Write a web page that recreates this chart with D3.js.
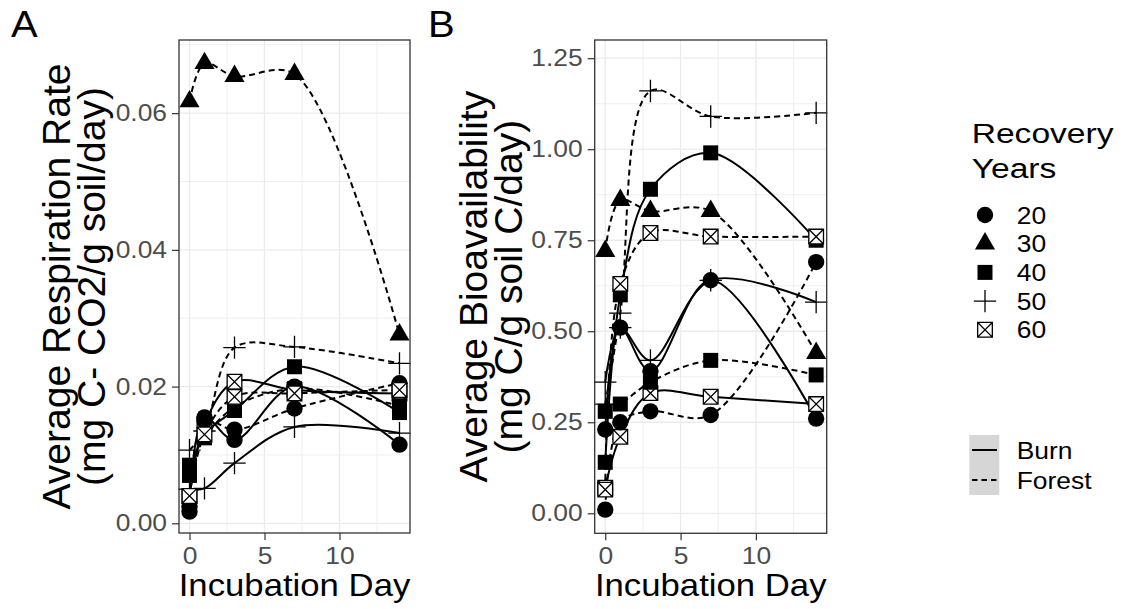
<!DOCTYPE html>
<html>
<head>
<meta charset="utf-8">
<script src="https://cdn.jsdelivr.net/npm/d3@7"></script>
<style>
  body { margin: 0; background: #fff; }
  svg { display: block; font-family: "Liberation Sans", Arial, sans-serif; }
</style>
</head>
<body>
<svg width="1123" height="609"></svg>
<script>
// incubation days sampled
const days = [0, 1, 3, 7, 14];
const years = ["20", "30", "40", "50", "60"];
const treatments = ["Burn", "Forest"];

// Panel A: average respiration rate (mg C-CO2 / g soil / day)
const respBurn20 = [0.0017, 0.0155, 0.0122, 0.0200, 0.0115];
const respBurn40 = [0.0070, 0.0130, 0.0165, 0.0229, 0.0162];
const respBurn50 = [0.0050, 0.0051, 0.0088, 0.0141, 0.0132];
const respBurn60 = [0.0040, 0.0145, 0.0207, 0.0195, 0.0190];
const respForest20 = [0.0025, 0.0150, 0.0137, 0.0168, 0.0205];
const respForest30 = [0.0617, 0.0673, 0.0654, 0.0657, 0.0276];
const respForest40 = [0.0085, 0.0125, 0.0170, 0.0197, 0.0172];
const respForest50 = [0.0107, 0.0135, 0.0257, 0.0258, 0.0234];
const respForest60 = [0.0040, 0.0130, 0.0185, 0.0190, 0.0195];

// Panel B: average bioavailability (mg C / g soil C / day)
const bioBurn20 = [0.23, 0.51, 0.39, 0.64, 0.26];
const bioBurn40 = [0.14, 0.60, 0.89, 0.99, 0.75];
const bioBurn50 = [0.36, 0.51, 0.42, 0.64, 0.58];
const bioBurn60 = [0.07, 0.21, 0.33, 0.32, 0.30];
const bioForest20 = [0.01, 0.25, 0.28, 0.27, 0.69];
const bioForest30 = [0.72, 0.86, 0.83, 0.83, 0.44];
const bioForest40 = [0.28, 0.30, 0.36, 0.42, 0.38];
const bioForest50 = [0.30, 0.55, 1.16, 1.09, 1.10];
const bioForest60 = [0.065, 0.63, 0.77, 0.76, 0.76];

const respTicks = [0, 0.02, 0.04, 0.06];
const bioTicks = [0, 0.25, 0.5, 0.75, 1.0, 1.25];
const dayTicks = [0, 5, 10];

const series = [
    {treatment: "Burn", year: "20", resp: respBurn20, bio: bioBurn20},
    {treatment: "Burn", year: "40", resp: respBurn40, bio: bioBurn40},
    {treatment: "Burn", year: "50", resp: respBurn50, bio: bioBurn50},
    {treatment: "Burn", year: "60", resp: respBurn60, bio: bioBurn60},
    {treatment: "Forest", year: "20", resp: respForest20, bio: bioForest20},
    {treatment: "Forest", year: "30", resp: respForest30, bio: bioForest30},
    {treatment: "Forest", year: "40", resp: respForest40, bio: bioForest40},
    {treatment: "Forest", year: "50", resp: respForest50, bio: bioForest50},
    {treatment: "Forest", year: "60", resp: respForest60, bio: bioForest60}
];

const svg = d3.select("svg");
const fontTick = 24, tickStretch = 1.1;
const gridCol = "#EBEBEB";

// custom symbols for pch 3 (plus) and pch 7 (boxed x)
const symPlus = {
    draw(ctx, size) {
        const r = Math.sqrt(size) / 2;
        ctx.moveTo(-r, 0); ctx.lineTo(r, 0);
        ctx.moveTo(0, -r); ctx.lineTo(0, r);
    }
};
const symBoxX = {
    draw(ctx, size) {
        const r = Math.sqrt(size) / 2;
        ctx.moveTo(-r, -r); ctx.lineTo(r, -r); ctx.lineTo(r, r); ctx.lineTo(-r, r); ctx.closePath();
        ctx.moveTo(-r, -r); ctx.lineTo(r, r);
        ctx.moveTo(r, -r); ctx.lineTo(-r, r);
    }
};
const shapeFor = {
    "20": {type: d3.symbolCircle, size: 210, fill: "#000", stroke: "none"},
    "30": {type: d3.symbolTriangle, size: 175, fill: "#000", stroke: "none"},
    "40": {type: d3.symbolSquare, size: 225, fill: "#000", stroke: "none"},
    "50": {type: symPlus, size: 500, fill: "none", stroke: "#000"},
    "60": {type: symBoxX, size: 215, fill: "#fff", stroke: "#000"}
};
const dashFor = {"Burn": null, "Forest": "6,4"};

function stretchText(g, x, y, str, size, sx, anchor, rotate) {
    return g.append("text")
        .attr("transform", `translate(${x},${y})` + (rotate ? ` rotate(${rotate})` : "") + ` scale(${sx},1)`)
        .attr("font-size", size)
        .attr("text-anchor", anchor || "start")
        .attr("fill", "#000")
        .text(str);
}

function drawPanel(cfg) {
    const x = d3.scaleLinear().domain([-0.7, 14.7]).range([cfg.x0, cfg.x1]);
    const y = d3.scaleLinear().domain(cfg.yDomain).range([cfg.y1, cfg.y0]);
    const g = svg.append("g");

    // minor grid
    const xMinor = [2.5, 7.5, 12.5];
    const yMinor = d3.range(cfg.ticks.length).map(i => cfg.ticks[0] + (i + 0.5) * (cfg.ticks[1] - cfg.ticks[0]))
        .filter(v => v < cfg.yDomain[1]);
    g.selectAll(".xminor").data(xMinor).enter().append("line")
        .attr("x1", d => x(d)).attr("x2", d => x(d)).attr("y1", cfg.y0).attr("y2", cfg.y1)
        .attr("stroke", gridCol).attr("stroke-width", 0.8);
    g.selectAll(".yminor").data(yMinor).enter().append("line")
        .attr("x1", cfg.x0).attr("x2", cfg.x1).attr("y1", d => y(d)).attr("y2", d => y(d))
        .attr("stroke", gridCol).attr("stroke-width", 0.8);
    // major grid
    g.selectAll(".xmajor").data(dayTicks).enter().append("line")
        .attr("x1", d => x(d)).attr("x2", d => x(d)).attr("y1", cfg.y0).attr("y2", cfg.y1)
        .attr("stroke", gridCol).attr("stroke-width", 1.3);
    g.selectAll(".ymajor").data(cfg.ticks).enter().append("line")
        .attr("x1", cfg.x0).attr("x2", cfg.x1).attr("y1", d => y(d)).attr("y2", d => y(d))
        .attr("stroke", gridCol).attr("stroke-width", 1.3);

    // smooth lines
    const line = d3.line()
        .x((d, i) => x(days[i]))
        .y(d => y(d))
        .curve(d3.curveCatmullRom.alpha(0.5));
    g.selectAll(".smooth").data(series).enter().append("path")
        .attr("d", s => line(s[cfg.key]))
        .attr("fill", "none")
        .attr("stroke", "#000")
        .attr("stroke-width", 2)
        .attr("stroke-dasharray", s => dashFor[s.treatment]);

    // points
    series.forEach(s => {
        const sh = shapeFor[s.year];
        g.selectAll(null).data(s[cfg.key]).enter().append("path")
            .attr("transform", (d, i) => `translate(${x(days[i])},${y(d)})`)
            .attr("d", d3.symbol().type(sh.type).size(sh.size))
            .attr("fill", sh.fill)
            .attr("stroke", sh.stroke)
            .attr("stroke-width", 1.3);
    });

    // panel border
    g.append("rect")
        .attr("x", cfg.x0).attr("y", cfg.y0)
        .attr("width", cfg.x1 - cfg.x0).attr("height", cfg.y1 - cfg.y0)
        .attr("fill", "none").attr("stroke", "#333333").attr("stroke-width", 1.3);

    // axes
    const yAxis = g.append("g").attr("transform", `translate(${cfg.x0},0)`)
        .call(d3.axisLeft(y).tickValues(cfg.ticks).tickFormat(d3.format(".2f")).tickSize(7).tickPadding(5));
    const xAxis = g.append("g").attr("transform", `translate(0,${cfg.y1})`)
        .call(d3.axisBottom(x).tickValues(dayTicks).tickFormat(d3.format("d")).tickSize(7).tickPadding(7));
    [yAxis, xAxis].forEach(ax => {
        ax.select(".domain").remove();
        ax.selectAll(".tick line").attr("stroke", "#333333").attr("stroke-width", 1.2);
        ax.selectAll("text")
            .attr("font-size", fontTick)
            .attr("font-family", "Liberation Sans, Arial, sans-serif")
            .attr("fill", "#4D4D4D");
    });
    yAxis.selectAll("text").attr("x", -12 / tickStretch).attr("transform", `scale(${tickStretch},1)`);
    xAxis.selectAll("text").attr("transform", `scale(${tickStretch},1)`);

    // titles
    stretchText(svg, (cfg.x0 + cfg.x1) / 2, 596, "Incubation Day", 31, 1.12, "middle");
    const cy = (cfg.y0 + cfg.y1) / 2;
    stretchText(svg, cfg.titleX[0], cy, cfg.title[0], 39, 1, "middle", -90);
    stretchText(svg, cfg.titleX[1], cy, cfg.title[1], 39, 1, "middle", -90);
    stretchText(svg, cfg.letterX, 36.7, cfg.letter, 37, 1.08, "start");
}

drawPanel({
    key: "resp", x0: 179, x1: 410, y0: 40, y1: 533,
    yDomain: [-0.00142, 0.0707], ticks: respTicks,
    title: ["Average Respiration Rate", "(mg C- CO2/g soil/day)"], titleX: [70, 105],
    letter: "A", letterX: 11
});
drawPanel({
    key: "bio", x0: 594.7, x1: 826.7, y0: 40, y1: 533.3,
    yDomain: [-0.055, 1.30], ticks: bioTicks,
    title: ["Average Bioavailability", "(mg C/g soil C/day)"], titleX: [487, 522],
    letter: "B", letterX: 428
});

// legend: recovery years (shape)
const leg = svg.append("g");
stretchText(leg, 971.7, 143, "Recovery", 28, 1.2, "start");
stretchText(leg, 971.7, 177.5, "Years", 28, 1.2, "start");
years.forEach((yr, i) => {
    const cy = 215 + i * 28.7;
    const sh = shapeFor[yr];
    leg.append("path")
        .attr("transform", `translate(985,${cy})`)
        .attr("d", d3.symbol().type(sh.type).size(sh.size))
        .attr("fill", sh.fill).attr("stroke", sh.stroke).attr("stroke-width", 1.3);
    stretchText(leg, 1016.7, cy + 8.5, yr, 24, 1.1, "start");
});

// legend: treatment (linetype)
treatments.forEach((t, i) => {
    const cy = 450 + i * 30;
    leg.append("rect")
        .attr("x", 969.3).attr("y", cy - 15).attr("width", 30).attr("height", 30)
        .attr("fill", "#D6D6D6");
    leg.append("line")
        .attr("x1", 972).attr("x2", 997).attr("y1", cy).attr("y2", cy)
        .attr("stroke", "#000").attr("stroke-width", 2)
        .attr("stroke-dasharray", dashFor[t] ? "5.5,4" : null);
    stretchText(leg, 1016.7, cy + 8.5, t, 24, 1.1, "start");
});
</script>
</body>
</html>
